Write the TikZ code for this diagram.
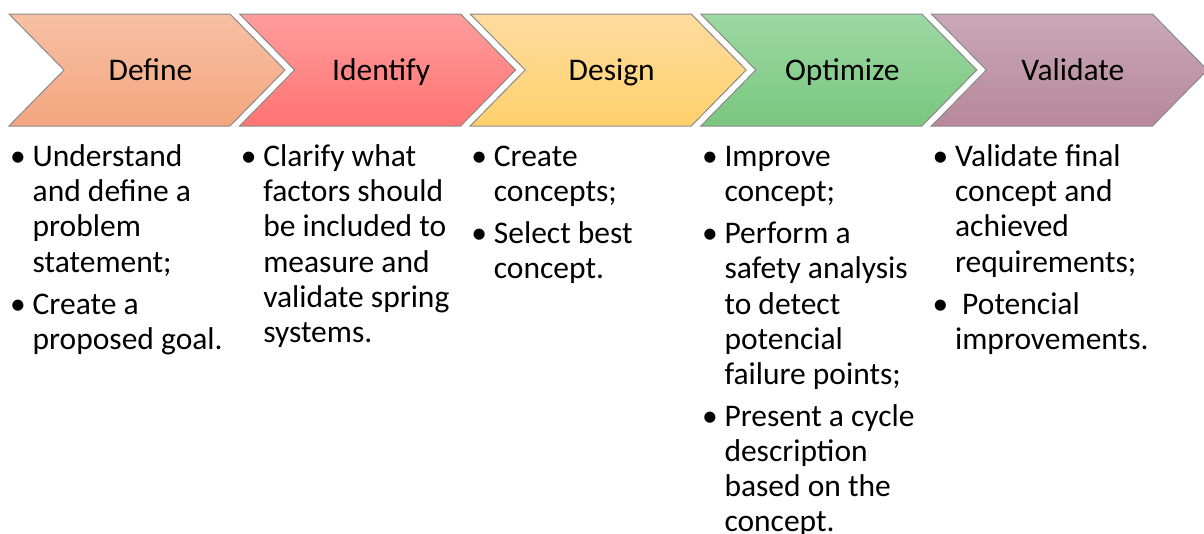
\documentclass[tikz,border=0pt]{standalone}
\usepackage{fontspec}
\setmainfont{Carlito}
\definecolor{defT}{HTML}{F6C0A4}
\definecolor{defB}{HTML}{F4A67E}
\definecolor{ideT}{HTML}{FF9C9C}
\definecolor{ideB}{HTML}{FF7373}
\definecolor{desT}{HTML}{FFDC9F}
\definecolor{desB}{HTML}{FFD06C}
\definecolor{optT}{HTML}{9DD9A3}
\definecolor{optB}{HTML}{79C67F}
\definecolor{valT}{HTML}{C9A8B7}
\definecolor{valB}{HTML}{B7889A}
\definecolor{edge}{HTML}{8A8A8A}
\newcommand{\nl}{\hfil\break}
\newcommand{\bitem}[1]{\par\noindent\hangindent=22.5pt\hangafter=1\makebox[22.5pt][l]{\textbullet}#1\par}
\newcommand{\blist}[1]{\parbox[t]{225pt}{\fontsize{31.5}{35.2}\selectfont\raggedright\setlength{\parskip}{6.7pt}#1}}
\begin{document}
\begin{tikzpicture}[x=1pt,y=-1pt,
  chev/.style={draw=edge, line width=1pt, line join=miter},
  lab/.style={anchor=base, inner sep=0pt, font=\fontsize{31.5}{36}\selectfont},
  col/.style={anchor=base west, inner sep=0pt}]
\useasboundingbox (0,0) rectangle (1204,533);
\foreach \i/\lab/\ct/\cb in {0/Define/defT/defB, 1/Identify/ideT/ideB, 2/Design/desT/desB, 3/Optimize/optT/optB, 4/Validate/valT/valB}{
  \pgfmathsetmacro\xx{9+230.6*\i}
  \shade[chev, top color=\ct, bottom color=\cb] (\xx,14) -- (\xx+221,14) -- (\xx+276,70) -- (\xx+221,126) -- (\xx,126) -- (\xx+55,70) -- cycle;
  \node[lab] (L\i) at (\xx+141.5,80) {\lab};
}
\node[col] (c1) at (10,166.5) {\blist{\bitem{Understand\nl and define a\nl problem\nl statement;}\bitem{Create a\nl proposed goal.}}};
\node[col] (c2) at (240.6,166.5) {\blist{\bitem{Clarify what\nl factors should\nl be included to\nl measure and\nl validate spring\nl systems.}}};
\node[col] (c3) at (471.2,166.5) {\blist{\bitem{Create\nl concepts;}\bitem{Select best\nl concept.}}};
\node[col] (c4) at (701.8,166.5) {\blist{\bitem{Improve\nl concept;}\bitem{Perform a\nl safety analysis\nl to detect\nl potencial\nl failure points;}\bitem{Present a cycle\nl description\nl based on the\nl concept.}}};
\node[col] (c5) at (932.4,166.5) {\blist{\bitem{Validate final\nl concept and\nl achieved\nl requirements;}\bitem{\ Potencial\nl improvements.}}};
\end{tikzpicture}
\end{document}
